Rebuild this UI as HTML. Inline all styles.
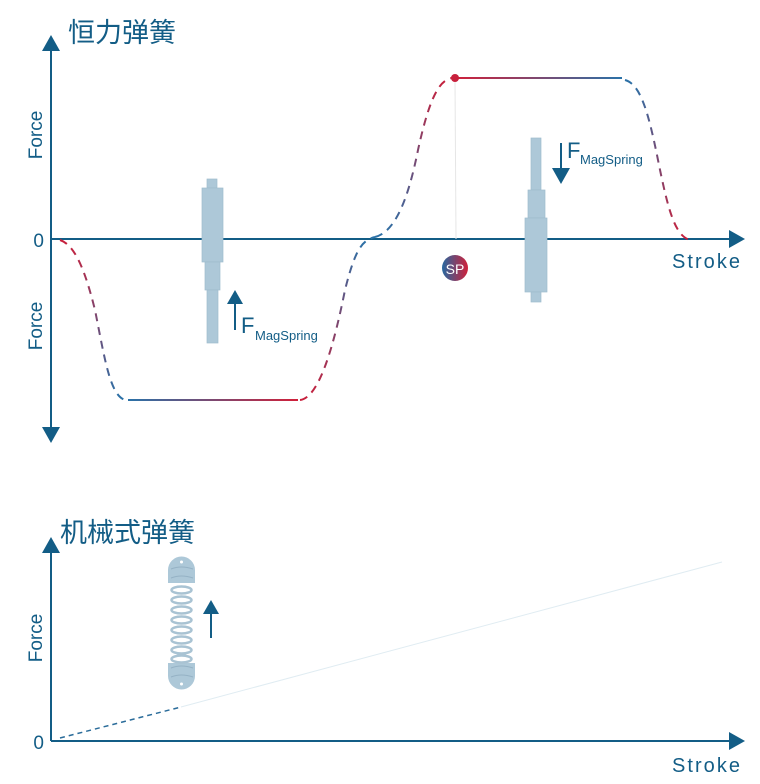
<!DOCTYPE html>
<html><head><meta charset="utf-8"><style>
html,body{margin:0;padding:0;background:#fff;width:760px;height:784px;overflow:hidden}
svg{display:block}
text{font-family:"Liberation Sans","Noto Sans CJK SC",sans-serif;fill:#135d86}
</style></head><body>
<svg width="760" height="784" viewBox="0 0 760 784" xmlns="http://www.w3.org/2000/svg">
<defs>
<linearGradient id="g1" gradientUnits="userSpaceOnUse" x1="128" y1="0" x2="298" y2="0"><stop offset="0" stop-color="#2a72a8"/><stop offset="1" stop-color="#d0203a"/></linearGradient>
<linearGradient id="g2" gradientUnits="userSpaceOnUse" x1="455" y1="0" x2="622" y2="0"><stop offset="0" stop-color="#d0203a"/><stop offset="1" stop-color="#2a72a8"/></linearGradient>
<linearGradient id="vRB" gradientUnits="userSpaceOnUse" x1="0" y1="240" x2="0" y2="400"><stop offset="0" stop-color="#c8203c"/><stop offset="1" stop-color="#2a72a8"/></linearGradient>
<linearGradient id="vBR" gradientUnits="userSpaceOnUse" x1="0" y1="239" x2="0" y2="400"><stop offset="0" stop-color="#2a72a8"/><stop offset="1" stop-color="#c8203c"/></linearGradient>
<linearGradient id="vRB2" gradientUnits="userSpaceOnUse" x1="0" y1="78" x2="0" y2="239"><stop offset="0" stop-color="#c8203c"/><stop offset="1" stop-color="#2a72a8"/></linearGradient>
<linearGradient id="vBR2" gradientUnits="userSpaceOnUse" x1="0" y1="78" x2="0" y2="240"><stop offset="0" stop-color="#2a72a8"/><stop offset="1" stop-color="#c8203c"/></linearGradient>
<linearGradient id="gsp" x1="0" x2="1"><stop offset="0" stop-color="#2668a0"/><stop offset="1" stop-color="#d0203a"/></linearGradient>
</defs>
<!-- top chart -->
<text x="68" y="42" font-size="27">恒力弹簧</text>
<line x1="51" y1="48" x2="51" y2="430" stroke="#135d86" stroke-width="2"/>
<polygon points="51,35 42,51 60,51" fill="#135d86"/>
<polygon points="51,443 42,427 60,427" fill="#135d86"/>
<line x1="51" y1="239" x2="732" y2="239" stroke="#135d86" stroke-width="2"/>
<polygon points="745,239 729,230 729,248" fill="#135d86"/>
<text x="44" y="247" font-size="19" text-anchor="end">0</text>
<text transform="translate(42,135) rotate(-90)" font-size="19" text-anchor="middle">Force</text>
<text transform="translate(42,326) rotate(-90)" font-size="19" text-anchor="middle">Force</text>
<text x="672" y="268" font-size="20" textLength="68">Stroke</text>

<path d="M60,240 C75,245 85,270 95,310 C105,360 110,395 125,400" fill="none" stroke="url(#vRB)" stroke-width="2" stroke-dasharray="8,6"/>
<line x1="128" y1="400" x2="298" y2="400" stroke="url(#g1)" stroke-width="2"/>
<path d="M300,400 C320,398 335,340 345,290 C355,250 362,240 375,237" fill="none" stroke="url(#vBR)" stroke-width="2" stroke-dasharray="8,6"/>
<path d="M375,237 C395,232 408,200 418,150 C430,95 440,80 452,78" fill="none" stroke="url(#vRB2)" stroke-width="2" stroke-dasharray="8,6"/>
<line x1="455" y1="78" x2="456" y2="239" stroke="#e6e6e6" stroke-width="1"/>
<line x1="455" y1="78" x2="622" y2="78" stroke="url(#g2)" stroke-width="2"/>
<circle cx="455" cy="78" r="4" fill="#c8203c"/>
<path d="M625,80 C640,84 648,110 658,160 C668,210 675,236 690,240" fill="none" stroke="url(#vBR2)" stroke-width="2" stroke-dasharray="8,6"/>

<!-- left cylinder -->
<g fill="#adc8d8" stroke="#9fbccd" stroke-width="0.7">
<rect x="207" y="179" width="10" height="9"/>
<rect x="202" y="188" width="21" height="74"/>
<rect x="205" y="262" width="15" height="28"/>
<rect x="207" y="290" width="11" height="53"/>
</g>
<line x1="235" y1="330" x2="235" y2="302" stroke="#135d86" stroke-width="2"/>
<polygon points="235,290 227,304 243,304" fill="#135d86"/>
<text x="241" y="333" font-size="22">F</text>
<text x="255" y="340" font-size="13">MagSpring</text>

<!-- right cylinder -->
<g fill="#adc8d8" stroke="#9fbccd" stroke-width="0.7">
<rect x="531" y="138" width="10" height="52"/>
<rect x="528" y="190" width="17" height="28"/>
<rect x="525" y="218" width="22" height="74"/>
<rect x="531" y="292" width="10" height="10"/>
</g>
<line x1="561" y1="143" x2="561" y2="172" stroke="#135d86" stroke-width="2"/>
<polygon points="561,184 552,168 570,168" fill="#135d86"/>
<text x="567" y="158" font-size="22">F</text>
<text x="580" y="164" font-size="13">MagSpring</text>

<circle cx="455" cy="268" r="13" fill="url(#gsp)"/>
<text x="455" y="274" font-size="14" text-anchor="middle" style="fill:#fff">SP</text>

<!-- bottom chart -->
<text x="60" y="542" font-size="27">机械式弹簧</text>
<line x1="51" y1="550" x2="51" y2="741" stroke="#135d86" stroke-width="2"/>
<polygon points="51,537 42,553 60,553" fill="#135d86"/>
<line x1="51" y1="741" x2="732" y2="741" stroke="#135d86" stroke-width="2"/>
<polygon points="745,741 729,732 729,750" fill="#135d86"/>
<text x="44" y="749" font-size="19" text-anchor="end">0</text>
<text transform="translate(42,638) rotate(-90)" font-size="19" text-anchor="middle">Force</text>
<text x="672" y="772" font-size="20" textLength="68">Stroke</text>
<line x1="60" y1="738" x2="181" y2="707" stroke="#2a6c9a" stroke-width="1.5" stroke-dasharray="5,4"/>
<line x1="181" y1="707" x2="722" y2="562" stroke="#e0ecf2" stroke-width="1"/>

<!-- spring -->
<path d="M168,583 V570 A13.5,13.5 0 0 1 195,570 V583 Z" fill="#adc8d8"/>
<path d="M168,663 V676 A13.5,13.5 0 0 0 195,676 V663 Z" fill="#adc8d8"/>
<g fill="none" stroke="#a9c3d3" stroke-width="2.5">
<ellipse cx="181.5" cy="590" rx="10" ry="3.5"/>
<ellipse cx="181.5" cy="600" rx="10" ry="3.5"/>
<ellipse cx="181.5" cy="610" rx="10" ry="3.5"/>
<ellipse cx="181.5" cy="620" rx="10" ry="3.5"/>
<ellipse cx="181.5" cy="630" rx="10" ry="3.5"/>
<ellipse cx="181.5" cy="640" rx="10" ry="3.5"/>
<ellipse cx="181.5" cy="650" rx="10" ry="3.5"/>
<ellipse cx="181.5" cy="659" rx="10" ry="3.5"/>
</g>
<g fill="none" stroke="#95b2c5" stroke-width="1">
<path d="M171,569 Q181,565 193,569"/><path d="M171,578 Q181,574 193,578"/>
<path d="M171,668 Q181,664 193,668"/><path d="M171,677 Q181,673 193,677"/>
</g>
<circle cx="181.5" cy="562" r="1.5" fill="#fff"/>
<circle cx="181.5" cy="684" r="1.5" fill="#fff"/>
<line x1="211" y1="638" x2="211" y2="612" stroke="#135d86" stroke-width="2"/>
<polygon points="211,600 203,614 219,614" fill="#135d86"/>
</svg>
</body></html>
